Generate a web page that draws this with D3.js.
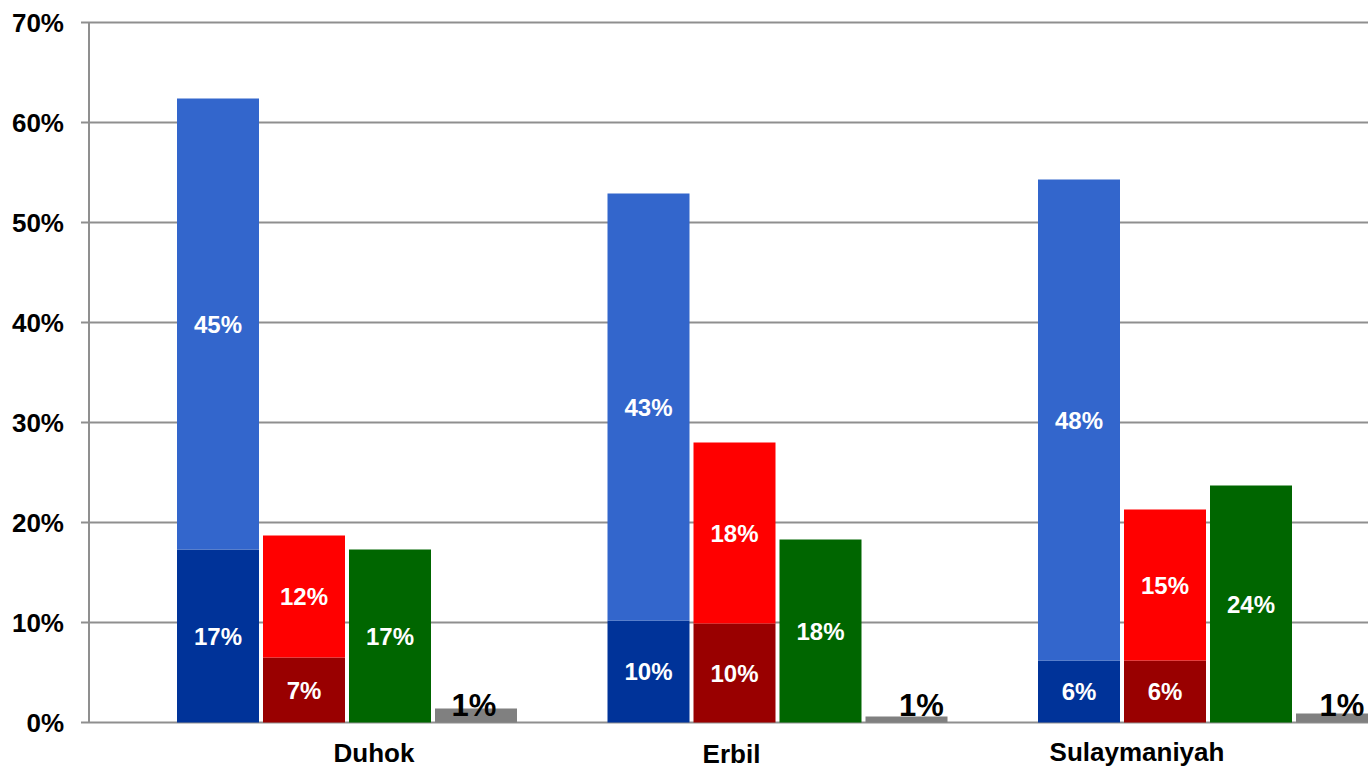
<!DOCTYPE html>
<html>
<head>
<meta charset="utf-8">
<script src="https://cdn.jsdelivr.net/npm/d3@7"></script>
<style>
  html, body { margin: 0; padding: 0; background: #fff; }
  svg { display: block; font-family: "Liberation Sans", Arial, sans-serif; font-weight: bold; }
</style>
</head>
<body>
<div id="chart"></div>
<script>
// data (fractions)
var categories = ["Duhok", "Erbil", "Sulaymaniyah"];
var columns = ["blue", "red", "green", "gray"];
var blueBase = [0.173, 0.102, 0.062];
var blueTop = [0.451, 0.427, 0.481];
var redBase = [0.065, 0.099, 0.062];
var redTop = [0.122, 0.181, 0.151];
var green = [0.173, 0.183, 0.237];
var gray = [0.014, 0.006, 0.009];
var yTicks = [0, 0.1, 0.2, 0.3, 0.4, 0.5, 0.6, 0.7];

// layout
var width = 1368, height = 770;
var labelShift = [27, -46, -71];
var labelBase = [762, 763, 761];

var svg = d3.select("#chart").append("svg")
	.attr("width", width)
	.attr("height", height);

var y = d3.scaleLinear().domain([0, 0.7]).range([722.5, 22.5]);
var x0 = d3.scaleBand().domain(categories).range([177, 177 + 3 * 430.5]).padding(0);
var x1 = d3.scaleBand().domain(columns).range([0, 340]).paddingInner(4 / 86).paddingOuter(0);

// grid
svg.append("g").selectAll("line")
	.data(yTicks)
	.enter().append("line")
	.attr("x1", 81).attr("x2", width)
	.attr("y1", d => y(d)).attr("y2", d => y(d))
	.attr("stroke", "#8f8f8f")
	.attr("stroke-width", 2);

svg.append("line")
	.attr("x1", 89).attr("x2", 89)
	.attr("y1", y(0.7)).attr("y2", y(0))
	.attr("stroke", "#8f8f8f")
	.attr("stroke-width", 2);

svg.append("g").selectAll("text")
	.data(yTicks)
	.enter().append("text")
	.attr("x", 64)
	.attr("y", d => y(d))
	.attr("dy", "0.36em")
	.attr("text-anchor", "end")
	.style("font-size", "26px")
	.attr("fill", "#000")
	.text(d => Math.round(d * 100) + "%");

// build segments
var segs = [];
categories.forEach(function (c, i) {
	segs.push({ cat: c, col: "blue", y0: 0, y1: blueBase[i], v: blueBase[i], fill: "#003399" });
	segs.push({ cat: c, col: "blue", y0: blueBase[i], y1: blueBase[i] + blueTop[i], v: blueTop[i], fill: "#3366cc" });
	segs.push({ cat: c, col: "red", y0: 0, y1: redBase[i], v: redBase[i], fill: "#990000" });
	segs.push({ cat: c, col: "red", y0: redBase[i], y1: redBase[i] + redTop[i], v: redTop[i], fill: "#ff0000" });
	segs.push({ cat: c, col: "green", y0: 0, y1: green[i], v: green[i], fill: "#006600" });
	segs.push({ cat: c, col: "gray", y0: 0, y1: gray[i], v: gray[i], fill: "#808080" });
});

svg.append("g").selectAll("rect")
	.data(segs)
	.enter().append("rect")
	.attr("x", d => x0(d.cat) + x1(d.col))
	.attr("width", x1.bandwidth())
	.attr("y", d => y(d.y1))
	.attr("height", d => y(d.y0) - y(d.y1))
	.attr("fill", d => d.fill);

// labels inside the bars
svg.append("g").selectAll("text")
	.data(segs.filter(d => d.col != "gray"))
	.enter().append("text")
	.attr("x", d => x0(d.cat) + x1(d.col) + x1.bandwidth() / 2)
	.attr("y", d => (y(d.y0) + y(d.y1)) / 2)
	.attr("dy", "0.36em")
	.attr("text-anchor", "middle")
	.attr("fill", "#fff")
	.style("font-size", "24px")
	.text(d => Math.round(d.v * 100) + "%");

// small gray values sit on top
svg.append("g").selectAll("text")
	.data(segs.filter(d => d.col == "gray"))
	.enter().append("text")
	.attr("x", (d, i) => x0(d.cat) + x1(d.col) + x1.bandwidth() / 2 + [-2, 15, 5][i])
	.attr("y", y(0) - 7)
	.attr("text-anchor", "middle")
	.attr("fill", "#000")
	.style("font-size", "31px")
	.text(d => Math.round(d.v * 100) + "%");

// category labels
svg.append("g").selectAll("text")
	.data(categories)
	.enter().append("text")
	.attr("x", (d, i) => x0(d) + 170 + labelShift[i])
	.attr("y", (d, i) => labelBase[i])
	.attr("text-anchor", "middle")
	.attr("fill", "#000")
	.style("font-size", "26px")
	.text(d => d);
</script>
</body>
</html>
